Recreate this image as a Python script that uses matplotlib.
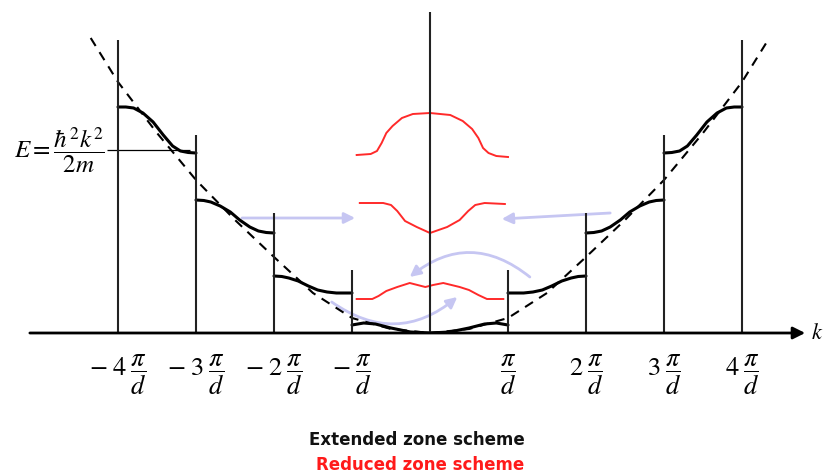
import matplotlib
matplotlib.use("Agg")
import matplotlib.pyplot as plt
import numpy as np

plt.rcParams['mathtext.fontset'] = 'stix'
plt.rcParams['font.family'] = ['DejaVu Sans']

# k in units of pi/d, E in arbitrary energy units (baseline = 0)
# zone boundaries and the heights of their vertical lines
zone_k = [1, 2, 3, 4]
zone_top = [63, 120, 198, 293]
center_top = 321

# free electron parabola (dashed), positive side, mirrored
dash_k = [0, 0.5, 1, 1.5, 2, 2.5, 3, 3.5, 4, 4.35]
dash_E = [0, 4, 15, 40, 76, 113, 153, 200, 251, 295]

# extended zone bands (positive side, mirrored)
band1_k = [0, 0.25, 0.5, 0.7, 0.85, 1.0]
band1_E = [0, 1, 5, 9, 10, 8]
band2_k = [1, 1.2, 1.32, 1.44, 1.56, 1.69, 1.81, 1.9, 2]
band2_E = [40, 40, 41, 43, 47, 52, 55, 56.5, 57]
band3_k = [2, 2.1, 2.2, 2.31, 2.44, 2.56, 2.69, 2.81, 2.9, 3]
band3_E = [100, 100.5, 102, 106, 113, 121, 127, 131, 132.5, 133]
band4_k = [3, 3.1, 3.2, 3.3, 3.42, 3.55, 3.68, 3.8, 3.9, 4]
band4_E = [180, 180.5, 182, 187, 198, 211, 220, 225, 226, 226]

# reduced zone bands (red)
red_top_k = [-0.94, -0.76, -0.68, -0.62, -0.56, -0.48, -0.36, -0.22, 0,
             0.26, 0.42, 0.54, 0.62, 0.68, 0.75, 0.85, 1.0]
red_top_E = [178, 179, 182, 190, 200, 207, 215, 219, 220,
             218, 212, 204, 195, 185, 180, 177, 176]
red_mid_k = [-0.9, -0.6, -0.5, -0.42, -0.32, -0.17, 0, 0.22, 0.38, 0.49, 0.58, 0.7, 0.96]
red_mid_E = [130, 130, 128, 122, 112, 106, 100, 106, 113, 122, 128, 130, 129]
red_low_k = [-0.94, -0.74, -0.66, -0.56, -0.42, -0.26, -0.06, 0.04, 0.17, 0.38, 0.5, 0.62, 0.73, 0.94]
red_low_E = [34, 34, 37, 42, 46, 50, 46, 48, 50, 46, 43, 38, 34, 34]

# folding arrows: tail, head, curvature
arrow_tail = [(-2.41, 115), (2.31, 120), (1.28, 56), (-1.26, 31)]
arrow_head = [(-0.96, 115), (0.92, 114), (-0.26, 56), (0.35, 36)]
arrow_rad = [0, 0, 0.4, 0.38]

tick_k = [-4, -3, -2, -1, 1, 2, 3, 4]
tick_labels = [r'$-\;4\;\dfrac{\pi}{d}$', r'$-\;3\;\dfrac{\pi}{d}$', r'$-\;2\;\dfrac{\pi}{d}$',
               r'$-\;\dfrac{\pi}{d}$', r'$\dfrac{\pi}{d}$', r'$2\;\dfrac{\pi}{d}$',
               r'$3\;\dfrac{\pi}{d}$', r'$4\;\dfrac{\pi}{d}$']

fig = plt.figure(figsize=(8.23, 4.76), dpi=100)
ax = fig.add_axes([0, 143 / 476, 1, 333 / 476])
ax.set_xlim(-430 / 78, 393 / 78)
ax.set_ylim(0, 333)
for s in ax.spines.values():
    s.set_visible(False)
ax.set_yticks([])
ax.set_xticks(tick_k, tick_labels)
ax.tick_params(axis='x', length=0, pad=14, labelsize=19)

lav = '#c6c6f2'

# dashed parabola
ax.plot(-np.array(dash_k[::-1]), dash_E[::-1], color='black', lw=1.5,
        dashes=(4.5, 3.5), zorder=3, clip_on=False)
ax.plot(dash_k, dash_E, color='black', lw=1.5, dashes=(4.5, 3.5), zorder=3, clip_on=False)

# bands
for bk, bE in [(band1_k, band1_E), (band2_k, band2_E), (band3_k, band3_E), (band4_k, band4_E)]:
    ax.plot(bk, bE, color='black', lw=2.2, zorder=4, solid_capstyle='round', solid_joinstyle='round')
    ax.plot(-np.array(bk), bE, color='black', lw=2.2, zorder=4, solid_capstyle='round',
            solid_joinstyle='round')

# vertical zone lines
for zk, zt in zip(zone_k, zone_top):
    ax.vlines([-zk, zk], 0, zt, color='#222222', lw=1.5, zorder=4)
ax.vlines(0, 0, center_top, color='#222222', lw=1.5, zorder=5)

# reduced zone (red)
for rk, rE in [(red_top_k, red_top_E), (red_mid_k, red_mid_E), (red_low_k, red_low_E)]:
    ax.plot(rk, rE, color='#ff2a2a', lw=1.4, zorder=3, solid_joinstyle='round')

# arrows
for t, h, r in zip(arrow_tail, arrow_head, arrow_rad):
    ax.annotate('', xy=h, xytext=t,
                arrowprops=dict(arrowstyle='-|>', color=lav, lw=2, mutation_scale=16,
                                shrinkA=0, shrinkB=0,
                                connectionstyle=f'arc3,rad={r}'), zorder=1)

# k axis
ax.annotate('', xy=(4.81, 0), xytext=(-5.13, 0),
            arrowprops=dict(arrowstyle='-|>', color='black', lw=2, mutation_scale=18,
                            shrinkA=0, shrinkB=0), annotation_clip=False, zorder=6)
ax.text(4.88, 0, '$k$', fontsize=16, va='center', ha='left', clip_on=False)

# energy formula with its guide line
ax.text(-4.17, 183, r'$E=\dfrac{\hbar^2k^2}{2m}$', fontsize=18, ha='right', va='center')
ax.hlines(183, -4.14, -3.08, color='black', lw=0.9, zorder=3)

fig.text(0.507, 1 - 440 / 476, 'Extended zone scheme', ha='center', va='center',
         fontsize=12, fontweight='bold', color='#111111')
fig.text(0.51, 1 - 465 / 476, 'Reduced zone scheme', ha='center', va='center',
         fontsize=12, fontweight='bold', color='#ff1a1a')

fig.savefig('out.png', dpi=100)
